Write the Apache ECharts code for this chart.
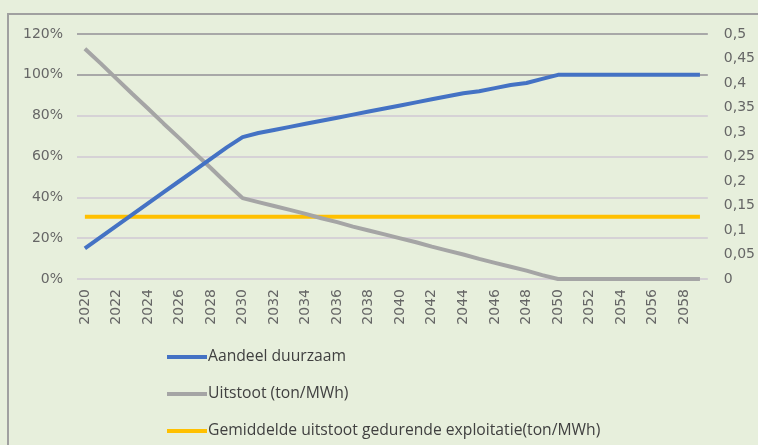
<!DOCTYPE html>
<html>
<head>
<meta charset="utf-8">
<script src="https://cdn.jsdelivr.net/npm/echarts@6/dist/echarts.min.js"></script>
<style>
  html, body { margin: 0; padding: 0; background: #e7efdc; }
  #main { width: 758px; height: 445px; }
</style>
</head>
<body>
<div id="main"></div>
<script>
var years = [];
for (var y = 2020; y <= 2059; y++) years.push(String(y));

// aandeel duurzaam (%)
var aandeel = [15, 20.5, 26, 31.5, 37, 42.5, 48, 53.5, 59, 64.5, 69.5,
  71.5, 73, 74.5, 76, 77.5, 79, 80.5, 82, 83.5, 85,
  86.5, 88, 89.5, 91, 92, 93.5, 95, 96, 98, 100,
  100, 100, 100, 100, 100, 100, 100, 100, 100];

// uitstoot (ton/MWh)
var uitstoot = [0.47, 0.44, 0.409, 0.378, 0.348, 0.317, 0.287, 0.256, 0.226, 0.195, 0.165,
  0.157, 0.149, 0.141, 0.133, 0.124, 0.116, 0.107, 0.099, 0.091, 0.083,
  0.075, 0.066, 0.058, 0.05, 0.041, 0.033, 0.025, 0.017, 0.008, 0,
  0, 0, 0, 0, 0, 0, 0, 0, 0];

// gemiddelde uitstoot gedurende exploitatie (ton/MWh)
var gemiddeld = years.map(function() { return 0.127; });

var seriesNames = ["Aandeel duurzaam", "Uitstoot (ton/MWh)", "Gemiddelde uitstoot gedurende exploitatie(ton/MWh)"];

var axisFont = "DejaVu Sans";
var legendFont = "Open Sans";
var chart = echarts.init(document.getElementById("main"));
var option = {
  backgroundColor: "#e7efdc",
  animation: false,
  textStyle: { fontFamily: axisFont },
  graphic: [
    {
      type: "rect",
      shape: { x: 8, y: 14, width: 800, height: 500 },
      style: { fill: null, stroke: "#a0a0a0", lineWidth: 2 },
      z: -1
    }
  ],
  grid: { left: 77, right: 49, top: 34, bottom: 166, containLabel: false },
  legend: {
    orient: "vertical",
    left: 167,
    top: 349,
    padding: 0,
    itemWidth: 40,
    itemHeight: 4,
    itemGap: 21,
    icon: "rect",
    textStyle: { color: "#404040", fontSize: 15.7, fontFamily: legendFont, padding: [0, 0, 0, -4] },
    data: seriesNames
  },
  xAxis: {
    type: "category",
    data: years,
    boundaryGap: true,
    axisLine: { show: false },
    axisTick: { show: false },
    axisLabel: {
      interval: 1,
      rotate: 90,
      color: "#666666",
      fontSize: 14,
      fontFamily: axisFont,
      margin: 10
    }
  },
  yAxis: [
    {
      type: "value",
      min: 0,
      max: 120,
      interval: 20,
      axisLine: { show: false },
      axisTick: { show: false },
      axisLabel: {
        color: "#666666",
        fontSize: 14,
        fontFamily: axisFont,
        margin: 14,
        formatter: "{value}%"
      },
      splitLine: {
        lineStyle: {
          color: ["#d6d2d6", "#d6d2d6", "#d6d2d6", "#d6d2d6", "#d6d2d6", "#a8a8a8", "#a8a8a8"],
          width: 2
        }
      }
    },
    {
      type: "value",
      min: 0,
      max: 0.5,
      interval: 0.05,
      axisLine: { show: false },
      axisTick: { show: false },
      splitLine: { show: false },
      axisLabel: {
        color: "#666666",
        fontSize: 14,
        fontFamily: axisFont,
        margin: 16,
        formatter: function(v) {
          return String(Math.round(v * 100) / 100).replace(".", ",");
        }
      }
    }
  ],
  series: [
    {
      name: seriesNames[0],
      type: "line",
      yAxisIndex: 0,
      data: aandeel,
      symbol: "none",
      lineStyle: { color: "#4472c4", width: 4 },
      itemStyle: { color: "#4472c4" },
      z: 3
    },
    {
      name: seriesNames[1],
      type: "line",
      yAxisIndex: 1,
      data: uitstoot,
      symbol: "none",
      lineStyle: { color: "#a5a5a5", width: 4 },
      itemStyle: { color: "#a5a5a5" },
      z: 2
    },
    {
      name: seriesNames[2],
      type: "line",
      yAxisIndex: 1,
      data: gemiddeld,
      symbol: "none",
      lineStyle: { color: "#ffc000", width: 4 },
      itemStyle: { color: "#ffc000" },
      z: 1
    }
  ]
};
chart.setOption(option);
</script>
</body>
</html>
